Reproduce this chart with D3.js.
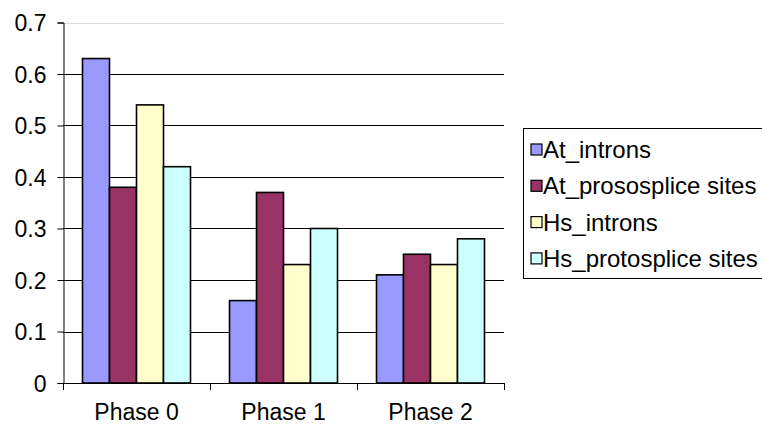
<!DOCTYPE html>
<html>
<head>
<meta charset="utf-8">
<script src="https://cdn.jsdelivr.net/npm/d3@7"></script>
<style>
  body { margin: 0; background: #fff; }
  text { font-family: "Liberation Sans", Arial, sans-serif; fill: #000; }
</style>
</head>
<body>
<script>
// chart data
const phases = ['Phase 0', 'Phase 1', 'Phase 2'];
const seriesNames = ['At_introns', 'At_prososplice sites', 'Hs_introns', 'Hs_protosplice sites'];
const seriesColors = ['#9999FF', '#993366', '#FFFFCC', '#CCFFFF'];
const atIntrons = [0.63, 0.16, 0.21];
const atProso = [0.38, 0.37, 0.25];
const hsIntrons = [0.54, 0.23, 0.23];
const hsProto = [0.42, 0.30, 0.28];
const yTicks = [0, 0.1, 0.2, 0.3, 0.4, 0.5, 0.6, 0.7];

const allSeries = [atIntrons, atProso, hsIntrons, hsProto];

const W = 762, H = 427;
const plot = { left: 63, right: 504, top: 22.5, bottom: 383 };

const svg = d3.select('body').append('svg')
    .attr('width', W)
    .attr('height', H);

const x = d3.scaleBand()
    .domain(phases)
    .range([plot.left, plot.right]);

const gap = (x.bandwidth() - 108) / 2; // space around each group of 4 bars
const xInner = d3.scaleBand()
    .domain(d3.range(seriesNames.length))
    .range([gap, x.bandwidth() - gap]);

const y = d3.scaleLinear()
    .domain([0, 0.7])
    .range([plot.bottom, plot.top]);

// gridlines (top one is the light plot border)
svg.append('g')
    .selectAll('line')
    .data(yTicks.filter(d => d > 0))
    .enter().append('line')
    .attr('x1', plot.left)
    .attr('x2', plot.right)
    .attr('y1', d => Math.round(y(d)) + 0.5)
    .attr('y2', d => Math.round(y(d)) + 0.5)
    .attr('stroke', d => d === 0.7 ? '#dcdcdc' : '#000')
    .attr('stroke-width', 1);

// bars
phases.forEach((p, i) => {
    const g = svg.append('g').attr('transform', `translate(${x(p)},0)`);
    g.selectAll('rect')
        .data(allSeries.map((s, k) => ({ k: k, v: s[i] })))
        .enter().append('rect')
        .attr('x', d => xInner(d.k))
        .attr('y', d => y(d.v))
        .attr('width', xInner.bandwidth())
        .attr('height', d => plot.bottom - y(d.v))
        .attr('fill', d => seriesColors[d.k])
        .attr('stroke', '#000')
        .attr('stroke-width', 1.6);
});

// y axis
const yAxis = svg.append('g')
    .attr('transform', `translate(${plot.left + 0.5},0)`)
    .call(d3.axisLeft(y).tickValues(yTicks).tickSize(6).tickPadding(11)
        .tickFormat(d => d === 0 ? '0' : d3.format('.1f')(d)));
yAxis.select('.domain').attr('stroke', '#000');
yAxis.selectAll('.tick line').attr('stroke', '#000');
yAxis.selectAll('.tick text')
    .style('font-size', '23px')
    .attr('dy', '0.36em');

// x axis: baseline with ticks at the category boundaries
svg.append('line')
    .attr('x1', plot.left)
    .attr('x2', plot.right)
    .attr('y1', plot.bottom + 0.5)
    .attr('y2', plot.bottom + 0.5)
    .attr('stroke', '#000');
svg.append('g')
    .selectAll('line')
    .data(phases.map(p => x(p)).concat([plot.right]))
    .enter().append('line')
    .attr('x1', d => Math.round(d) + 0.5)
    .attr('x2', d => Math.round(d) + 0.5)
    .attr('y1', plot.bottom)
    .attr('y2', plot.bottom + 7)
    .attr('stroke', '#000');
svg.append('g')
    .selectAll('text')
    .data(phases)
    .enter().append('text')
    .attr('x', d => x(d) + x.bandwidth() / 2)
    .attr('y', 420)
    .attr('text-anchor', 'middle')
    .style('font-size', '23px')
    .text(d => d);

// legend
const legend = svg.append('g').attr('transform', 'translate(523.5,128.5)');
legend.append('rect')
    .attr('width', 260)
    .attr('height', 150)
    .attr('fill', '#fff')
    .attr('stroke', '#000');
const rows = legend.selectAll('g.row')
    .data(seriesNames)
    .enter().append('g')
    .attr('class', 'row')
    .attr('transform', (d, i) => `translate(0,${21 + i * 36.3})`);
rows.append('rect')
    .attr('x', 7.5)
    .attr('y', -5.5)
    .attr('width', 11)
    .attr('height', 11)
    .attr('fill', (d, i) => seriesColors[i])
    .attr('stroke', '#000')
    .attr('stroke-width', 1.2);
rows.append('text')
    .attr('x', 19.5)
    .attr('dy', '0.36em')
    .style('font-size', '24px')
    .text(d => d);
</script>
</body>
</html>
